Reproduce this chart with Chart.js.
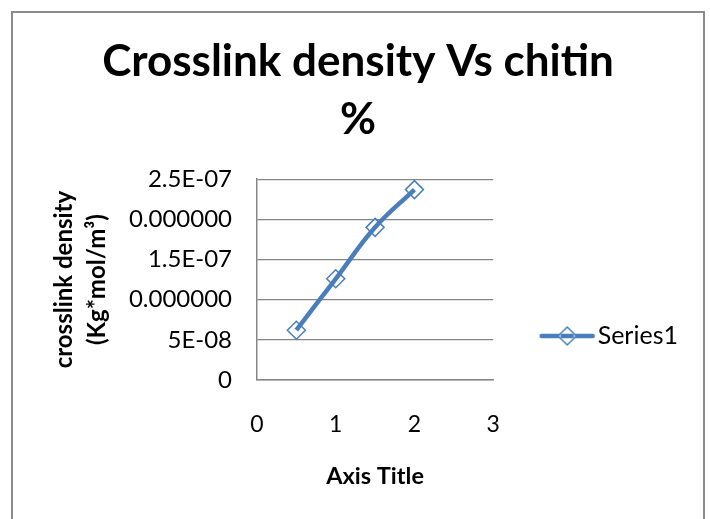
<!DOCTYPE html>
<html>
<head>
<meta charset="utf-8">
<script src="https://cdn.jsdelivr.net/npm/chart.js@4.4.1/dist/chart.umd.min.js"></script>
<style>
  body { margin: 0; background: #fff; overflow: hidden; }
  #frame { position: absolute; left: 11px; top: 11px; width: 690px; height: 600px; border: 2px solid #8b8b8b; }
  #chart { position: absolute; left: 0; top: 0; }
</style>
</head>
<body>
<div id="frame"><canvas id="chart" width="690" height="506"></canvas></div>
<script>
// chitin % vs crosslink density
var chitin = [0.5, 1, 1.5, 2];
var density = [6.2e-8, 1.26e-7, 1.9e-7, 2.37e-7];
var yTickLabels = ["0", "5E-08", "0.000000", "1.5E-07", "0.000000", "2.5E-07"];
var xTickLabels = ["0", "1", "2", "3"];

var blue = "#4a7ebb";
var grey = "#868686";
var font = "Lato";

// legend symbol: line with a hollow diamond
function legendSymbol() {
    var c = document.createElement("canvas");
    c.width = 57; c.height = 24;
    var g = c.getContext("2d");
    g.strokeStyle = blue;
    g.lineWidth = 4.5;
    g.lineCap = "round";
    g.beginPath(); g.moveTo(3, 12); g.lineTo(54, 12); g.stroke();
    g.lineWidth = 1.5;
    g.fillStyle = "#fff";
    g.beginPath();
    g.moveTo(28.5, 3); g.lineTo(37.5, 12); g.lineTo(28.5, 21); g.lineTo(19.5, 12); g.closePath();
    g.fill(); g.stroke();
    g.lineWidth = 4.5;
    g.beginPath(); g.moveTo(24, 12); g.lineTo(33, 12); g.stroke();
    return c;
}

var points = chitin.map(function(x, i) { return {x: x, y: density[i]}; });

new Chart(document.getElementById("chart"), {
    type: "line",
    data: {
        datasets: [{
            label: "Series1",
            data: points,
            borderColor: blue,
            borderWidth: 4.5,
            tension: 0.4,
            pointStyle: "rectRot",
            pointRadius: 9,
            pointBorderWidth: 1.5,
            pointBorderColor: blue,
            pointBackgroundColor: "rgba(255,255,255,0)"
        }]
    },
    options: {
        responsive: false,
        animation: false,
        layout: { padding: { left: 15, right: 15, top: 0, bottom: 0 } },
        plugins: {
            title: {
                display: true,
                text: ["Crosslink density Vs chitin", "%"],
                color: "#000",
                font: { family: font, size: 44, weight: "bold", lineHeight: 1.32 },
                padding: { top: 20, bottom: 30 }
            },
            legend: {
                position: "right",
                maxWidth: 400,
                title: { display: true, text: "", font: { size: 10, lineHeight: 1 }, padding: { top: 0, bottom: 130 } },
                labels: {
                    color: "#000",
                    font: { family: font, size: 25 },
                    usePointStyle: true,
                    pointStyleWidth: 36,
                    padding: 56,
                    generateLabels: function(chart) {
                        return [{ text: "Series1", pointStyle: legendSymbol(), datasetIndex: 0,
                                  fillStyle: blue, strokeStyle: blue, lineWidth: 0, fontColor: "#000" }];
                    }
                }
            },
            tooltip: { enabled: false }
        },
        scales: {
            x: {
                type: "linear",
                min: 0, max: 3,
                afterFit: function(s) { s.height = 139; },
                ticks: { stepSize: 1, padding: 30.5, color: "#000",
                         font: { family: font, size: 23 },
                         callback: function(v, i) { return xTickLabels[i]; } },
                grid: { display: false, drawTicks: false },
                border: { color: grey, width: 1.5 },
                title: { display: true, text: "Axis Title", color: "#000",
                         font: { family: font, size: 23.5, weight: "bold" }, padding: { top: 0, bottom: 28 } }
            },
            y: {
                min: 0, max: 2.5e-7,
                afterFit: function(s) { s.width = 229; },
                ticks: { stepSize: 5e-8, padding: 25, color: "#000",
                         font: { family: font, size: 24 },
                         callback: function(v, i) { return yTickLabels[i]; } },
                grid: { color: grey, lineWidth: 1.2, drawTicks: false },
                border: { color: grey, width: 1.5 },
                title: { display: true, text: ["crosslink density", "(Kg*mol/m³)"], color: "#000",
                         font: { family: font, size: 24, weight: "bold", lineHeight: 1.375 }, padding: { top: 20, bottom: 0 } }
            }
        }
    }
});
</script>
</body>
</html>
